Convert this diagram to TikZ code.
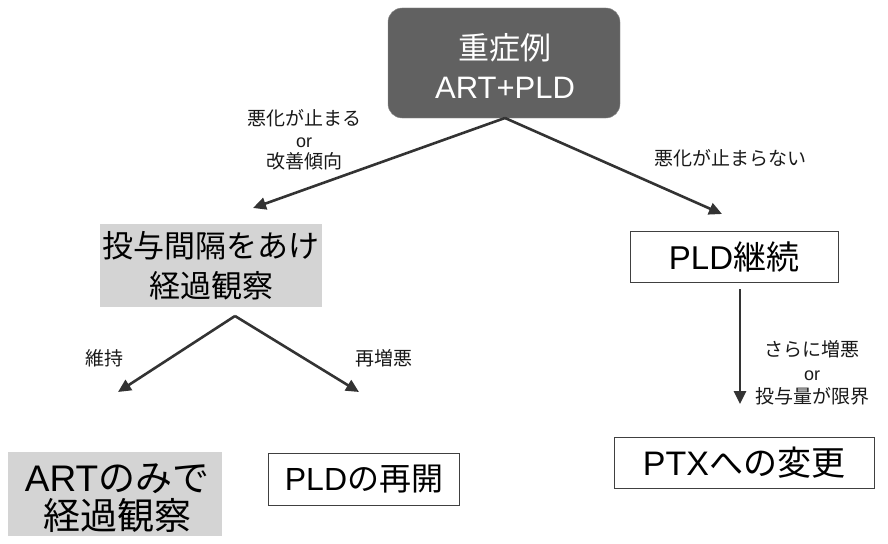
\documentclass[tikz,border=0pt]{standalone}
\usepackage{fontspec}
\setmainfont{Liberation Sans}
\newfontfamily\jp{Noto Sans CJK JP}
\usetikzlibrary{arrows.meta}
\newcommand{\la}[1]{{\rmfamily #1}}
\newcommand{\orword}{{\rmfamily\fontsize{18}{21}\selectfont or}}
\tikzset{
  big/.style={font=\jp\fontsize{31}{40}\selectfont, align=center, inner sep=0pt},
  small/.style={font=\jp\fontsize{19}{23}\selectfont, align=center, inner sep=0pt, text=black!90},
  whitebox/.style={draw=black!75, line width=0.8pt, fill=white},
  arr/.style={draw=black!80, line width=2.6pt, -{Triangle[length=13pt,width=12pt]}}
}
\begin{document}
\begin{tikzpicture}[x=1pt,y=-1pt]
\useasboundingbox (0,0) rectangle (888,543);
% top box
\fill[black!62, draw=black!45, rounded corners=14pt] (388,8) rectangle (620,118);
\node[big, text=white, font=\jp\fontsize{31}{40}\selectfont] (top) at (505,66) {重症例\\[-1pt]\la{ART+PLD}};
\coordinate (topb) at (505,118);
% left middle
\fill[black!17] (100,224) rectangle (322,307);
\node[big] (mid) at (211,266) {投与間隔をあけ\\経過観察};
% right middle
\node[whitebox, minimum width=208pt, minimum height=51pt, inner sep=0pt] (pld) at (734,257) {};
\node[big, font=\jp\fontsize{33}{40}\selectfont] at (pld) {\la{PLD}継続};
% bottom left
\fill[black!17] (8,452) rectangle (222,536);
\node[big, font=\jp\fontsize{37}{38}\selectfont] (artonly) at (117,498) {\la{ART}のみで\\経過観察};
% bottom middle
\node[whitebox, minimum width=191pt, minimum height=52pt, inner sep=0pt] (resume) at (364,479) {};
\node[big, font=\jp\fontsize{32}{40}\selectfont] at (resume) {\la{PLD}の再開};
% bottom right
\node[whitebox, minimum width=260pt, minimum height=51pt, inner sep=0pt] (ptx) at (744,463) {};
\node[big, font=\jp\fontsize{34}{40}\selectfont] at (ptx) {\la{PTX}への変更};
% arrow ends
\coordinate (la) at (253,208);
\coordinate (ra) at (722,214);
\coordinate (midb) at (235,316);
\coordinate (bl) at (118,392);
\coordinate (bm) at (359,392);
\coordinate (pldb) at (740,289);
\coordinate (ptxt) at (740,404);
\draw[arr] (topb) -- (la);
\draw[arr] (topb) -- (ra);
\draw[arr] (midb) -- (bl);
\draw[arr] (midb) -- (bm);
\draw[arr] (pldb) -- (ptxt);
% labels
\node[small] (l1) at (304,140) {悪化が止まる\\[-1pt]\orword\\[-2pt]改善傾向};
\node[small] (l2) at (730,158) {悪化が止まらない};
\node[small] (l3) at (104,358) {維持};
\node[small] (l4) at (384,358) {再増悪};
\node[small] (l5) at (812,373) {さらに増悪\\[1pt]\orword\\[0pt]投与量が限界};
\end{tikzpicture}
\end{document}
